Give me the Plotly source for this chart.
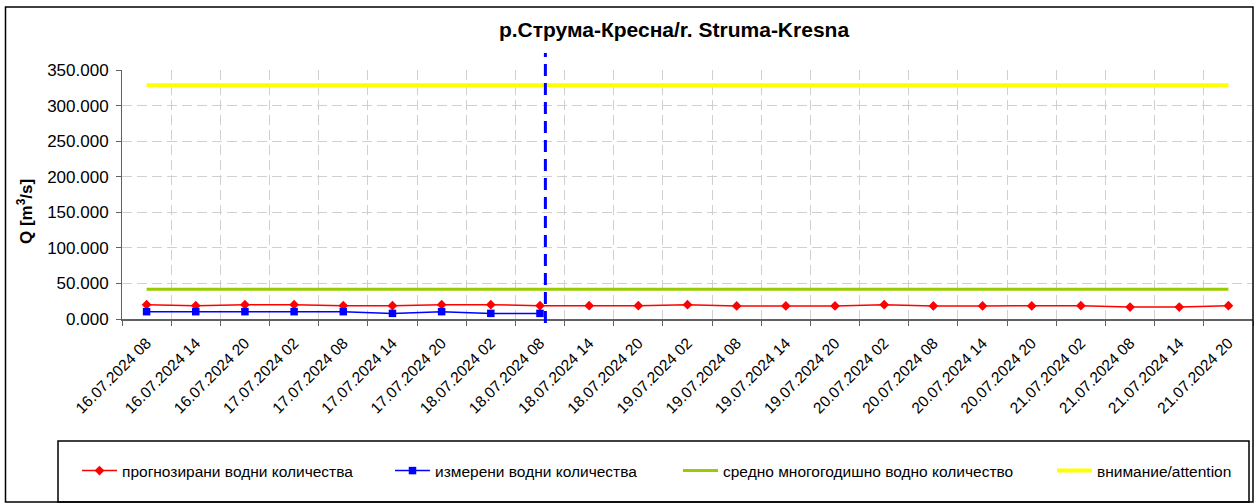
import plotly.graph_objects as go

# ---------------- data ----------------
categories = [
    "16.07.2024 08", "16.07.2024 14", "16.07.2024 20",
    "17.07.2024 02", "17.07.2024 08", "17.07.2024 14", "17.07.2024 20",
    "18.07.2024 02", "18.07.2024 08", "18.07.2024 14", "18.07.2024 20",
    "19.07.2024 02", "19.07.2024 08", "19.07.2024 14", "19.07.2024 20",
    "20.07.2024 02", "20.07.2024 08", "20.07.2024 14", "20.07.2024 20",
    "21.07.2024 02", "21.07.2024 08", "21.07.2024 14", "21.07.2024 20",
]
forecast = [20.1, 18.7, 20.1, 20.1, 18.7, 18.7, 20.1, 20.1, 18.7, 18.7, 18.7,
            20.1, 18.4, 18.4, 18.4, 20.1, 18.4, 18.4, 18.4, 18.7, 16.8, 16.8, 18.7]
measured_categories = categories[:9]
measured = [10.3, 10.3, 10.3, 10.3, 10.3, 7.9, 10.3, 7.9, 7.9]
mean_flow = [41.7, 41.7, 41.7, 41.7, 41.7, 41.7, 41.7, 41.7, 41.7, 41.7, 41.7, 41.7,
             41.7, 41.7, 41.7, 41.7, 41.7, 41.7, 41.7, 41.7, 41.7, 41.7, 41.7]
attention = [328.5, 328.5, 328.5, 328.5, 328.5, 328.5, 328.5, 328.5, 328.5, 328.5, 328.5, 328.5,
             328.5, 328.5, 328.5, 328.5, 328.5, 328.5, 328.5, 328.5, 328.5, 328.5, 328.5]
y_ticks = [0, 50, 100, 150, 200, 250, 300, 350]
now_index = 8.11  # position of the "now" marker between categories

series_names = [
    "прогнозирани водни количества",
    "измерени водни количества",
    "средно многогодишно водно количество",
    "внимание/attention",
]
title_text = "р.Струма-Кресна/r. Struma-Kresna"

# ---------------- layout geometry ----------------
W, H = 1256, 503
PL, PR, PT, PB = 122, 1253, 70, 319   # plot area in pixels
legend_x_px = [77, 390, 678, 1052]    # left edge of each legend entry
legend_y_px = 471


def px(x):
    return (x - PL) / (PR - PL)


def py(y):
    return (PB - y) / (PB - PT)


FONT = "Liberation Sans, Arial, sans-serif"

fig = go.Figure()
fig.add_trace(go.Scatter(
    x=categories, y=forecast, name=series_names[0], mode="lines+markers",
    line=dict(color="#ff0000", width=1.5),
    marker=dict(symbol="diamond", size=7.5, color="#ff0000"),
    legend="legend",
))
fig.add_trace(go.Scatter(
    x=measured_categories, y=measured, name=series_names[1], mode="lines+markers",
    line=dict(color="#0000ff", width=1.5),
    marker=dict(symbol="square", size=7.5, color="#0000ff"),
    legend="legend2",
))
fig.add_trace(go.Scatter(
    x=categories, y=mean_flow, name=series_names[2], mode="lines",
    line=dict(color="#99cc00", width=3),
    legend="legend3",
))
fig.add_trace(go.Scatter(
    x=categories, y=attention, name=series_names[3], mode="lines",
    line=dict(color="#ffff00", width=4),
    legend="legend4",
))

grid = "#d0d0d0"
axcol = "#606060"


def legend_style(xpix):
    return dict(
        orientation="h", xref="container", yref="container",
        x=xpix / W, xanchor="left", y=(H - legend_y_px) / H, yanchor="middle",
        font=dict(family=FONT, size=15.5, color="black"),
        bgcolor="rgba(0,0,0,0)", borderwidth=0, itemwidth=35,
    )


fig.update_layout(
    width=W, height=H,
    margin=dict(l=PL, r=W - PR, t=PT, b=H - PB, autoexpand=False),
    paper_bgcolor="white", plot_bgcolor="white",
    font=dict(family=FONT, color="black"),
    title=dict(text=title_text, x=674 / W, xanchor="center", y=1 - 30 / H, yanchor="middle",
               font=dict(family=FONT, size=21, color="black", weight="bold")),
    xaxis=dict(
        type="category", categoryorder="array", categoryarray=categories,
        range=[-0.5, len(categories) - 0.5], tickson="boundaries",
        showgrid=True, gridcolor=grid, gridwidth=1, griddash="10px,5px",
        ticks="outside", ticklen=5, tickcolor=axcol, tickwidth=1,
        showline=True, linecolor=axcol, linewidth=2,
        tickangle=-45, tickfont=dict(family=FONT, size=15.5, color="black"),
        ticklabelstandoff=7, zeroline=False,
    ),
    yaxis=dict(
        range=[0, 350], tickvals=y_ticks, tickformat=".3f",
        showgrid=True, gridcolor=grid, gridwidth=1, griddash="10px,5px",
        ticks="outside", ticklen=5, tickcolor=axcol, tickwidth=1,
        showline=True, linecolor=axcol, linewidth=1,
        tickfont=dict(family=FONT, size=17, color="black"),
        ticklabelstandoff=4, zeroline=False,
    ),
    showlegend=True,
    legend=legend_style(legend_x_px[0]),
    legend2=legend_style(legend_x_px[1]),
    legend3=legend_style(legend_x_px[2]),
    legend4=legend_style(legend_x_px[3]),
    shapes=[
        # outer chart frame
        dict(type="rect", xref="paper", yref="paper",
             x0=px(5.5), x1=px(1253), y0=py(502), y1=py(7),
             line=dict(color="black", width=1.5), layer="above"),
        # legend box
        dict(type="rect", xref="paper", yref="paper",
             x0=px(58), x1=px(1249), y0=py(502), y1=py(441),
             line=dict(color="black", width=1.5), layer="above"),
        # "now" marker
        dict(type="line", xref="x", yref="paper",
             x0=now_index, x1=now_index, y0=py(323), y1=py(53),
             line=dict(color="#0000ff", width=3, dash="12px,7px"), layer="above"),
    ],
    annotations=[
        dict(text="Q [m<sup>3</sup>/s]", xref="paper", yref="paper",
             x=px(25), y=py(212), xanchor="center", yanchor="middle",
             textangle=-90, showarrow=False,
             font=dict(family=FONT, size=17, color="black", weight="bold")),
    ],
)

fig.write_html(
    "out.html",
    config={"displayModeBar": False},
    post_script="document.body.style.margin='0px';document.body.style.overflow='hidden';",
)
